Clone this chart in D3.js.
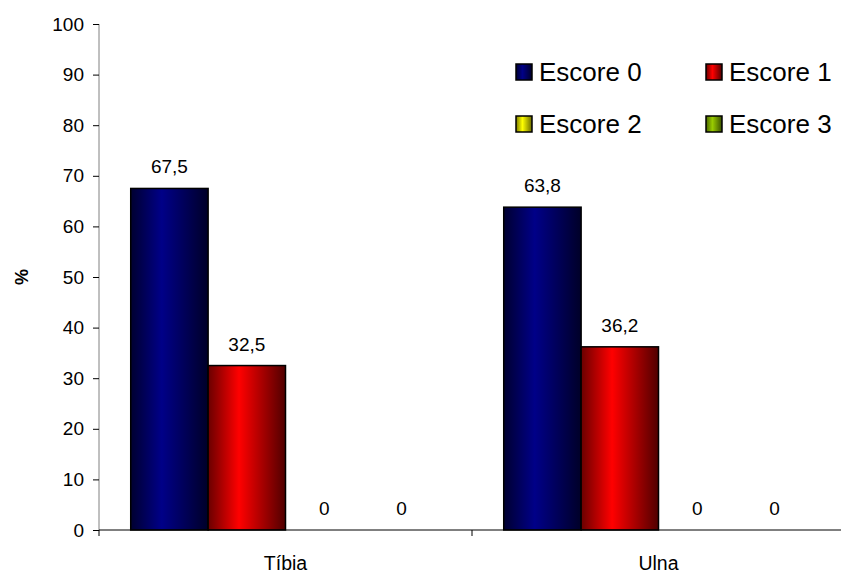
<!DOCTYPE html>
<html><head><meta charset="utf-8">
<script src="https://cdn.jsdelivr.net/npm/d3@7"></script>
<style>body{margin:0;background:#fff}svg{display:block;font-family:"Liberation Sans",Arial,sans-serif}</style>
</head><body><svg id="c" width="841" height="575"></svg>
<script>
const categories = ["Tíbia", "Ulna"];
const series = ["Escore 0", "Escore 1", "Escore 2", "Escore 3"];
const values = {
  "Escore 0": [67.5, 63.8],
  "Escore 1": [32.5, 36.2],
  "Escore 2": [0, 0],
  "Escore 3": [0, 0]
};
const yTicks = [0,10,20,30,40,50,60,70,80,90,100];
const colors = {
  "Escore 0": ["#000030", "#000088", "#000028"],
  "Escore 1": ["#6a0000", "#ff0000", "#500000"],
  "Escore 2": ["#7a7a00", "#ffff00", "#6a6a00"],
  "Escore 3": ["#4a6600", "#99cc00", "#3a5000"]
};

const svg = d3.select("#c");
const defs = svg.append("defs");
series.forEach((s, i) => {
  const g = defs.append("linearGradient").attr("id", "g" + i).attr("x1", "0%").attr("x2", "100%").attr("y1", "0%").attr("y2", "0%");
  g.append("stop").attr("offset", "0%").attr("stop-color", colors[s][0]);
  g.append("stop").attr("offset", "40%").attr("stop-color", colors[s][1]);
  g.append("stop").attr("offset", "100%").attr("stop-color", colors[s][2]);
});

const x0 = d3.scaleBand().domain(categories).range([99, 845]).paddingInner(0).paddingOuter(0);
const x1 = d3.scaleBand().domain(series).range([0, x0.bandwidth()]).paddingInner(0).paddingOuter(0.41);
const y = d3.scaleLinear().domain([0, 100]).range([530, 24]);

// y axis
const yAxis = svg.append("g").attr("transform", "translate(99,0)")
  .call(d3.axisLeft(y).tickValues(yTicks).tickSize(6).tickPadding(9).tickFormat(d3.format("d")));
yAxis.attr("font-size", 19).attr("font-family", "Liberation Sans, Arial, sans-serif");
yAxis.select(".domain").attr("stroke", "#808080").attr("d", "M0,24V530");
yAxis.selectAll(".tick line").attr("stroke", "#000");
yAxis.selectAll("text").attr("fill", "#000");

// bars
const groups = svg.append("g").selectAll("g").data(categories).join("g")
  .attr("transform", d => `translate(${x0(d)},0)`);
groups.selectAll("rect").data((c, ci) => series.map((s, si) => ({s, si, v: values[s][ci]}))).join("rect")
  .filter(d => d.v > 0)
  .attr("x", d => x1(d.s)).attr("width", x1.bandwidth())
  .attr("y", d => y(d.v)).attr("height", d => y(0) - y(d.v))
  .attr("fill", d => `url(#g${d.si})`).attr("stroke", "#000").attr("stroke-width", 1.5);
groups.selectAll("text").data((c, ci) => series.map((s, si) => ({s, si, v: values[s][ci]}))).join("text")
  .attr("x", d => x1(d.s) + x1.bandwidth() / 2)
  .attr("y", d => y(d.v) - 15)
  .attr("text-anchor", "middle").attr("font-size", 19).attr("fill", "#000")
  .text(d => String(d.v).replace(".", ","));

// x axis
const xAxis = svg.append("g").attr("transform", "translate(0,530)");
xAxis.append("line").attr("x1", 99).attr("x2", 845).attr("y1", 0).attr("y2", 0).attr("stroke", "#000");
const xTicks = [x0.range()[0], ...categories.map(c => x0(c) + x0.bandwidth())];
xAxis.selectAll("line.t").data(xTicks).join("line").attr("class", "t")
  .attr("x1", d => d).attr("x2", d => d).attr("y1", 0).attr("y2", 6).attr("stroke", "#000");
xAxis.selectAll("text").data(categories).join("text")
  .attr("x", d => x0(d) + x0.bandwidth() / 2).attr("y", 40)
  .attr("text-anchor", "middle").attr("font-size", 19.5).attr("fill", "#000").text(d => d);

// y label
svg.append("text").attr("transform", "translate(28,277) rotate(-90)")
  .attr("text-anchor", "middle").attr("font-size", 18).attr("font-weight", "bold").text("%");

// legend
const legPos = [[515, 72], [705, 72], [515, 124], [705, 124]];
const leg = svg.append("g").selectAll("g").data(series).join("g")
  .attr("transform", (d, i) => `translate(${legPos[i][0]},${legPos[i][1]})`);
leg.append("rect").attr("x", 1).attr("y", -8).attr("width", 16).attr("height", 16)
  .attr("fill", (d, i) => `url(#g${i})`).attr("stroke", "#000").attr("stroke-width", 1.5);
leg.append("text").attr("x", 24).attr("y", 9).attr("font-size", 26).attr("fill", "#000").text(d => d);
</script></body></html>
